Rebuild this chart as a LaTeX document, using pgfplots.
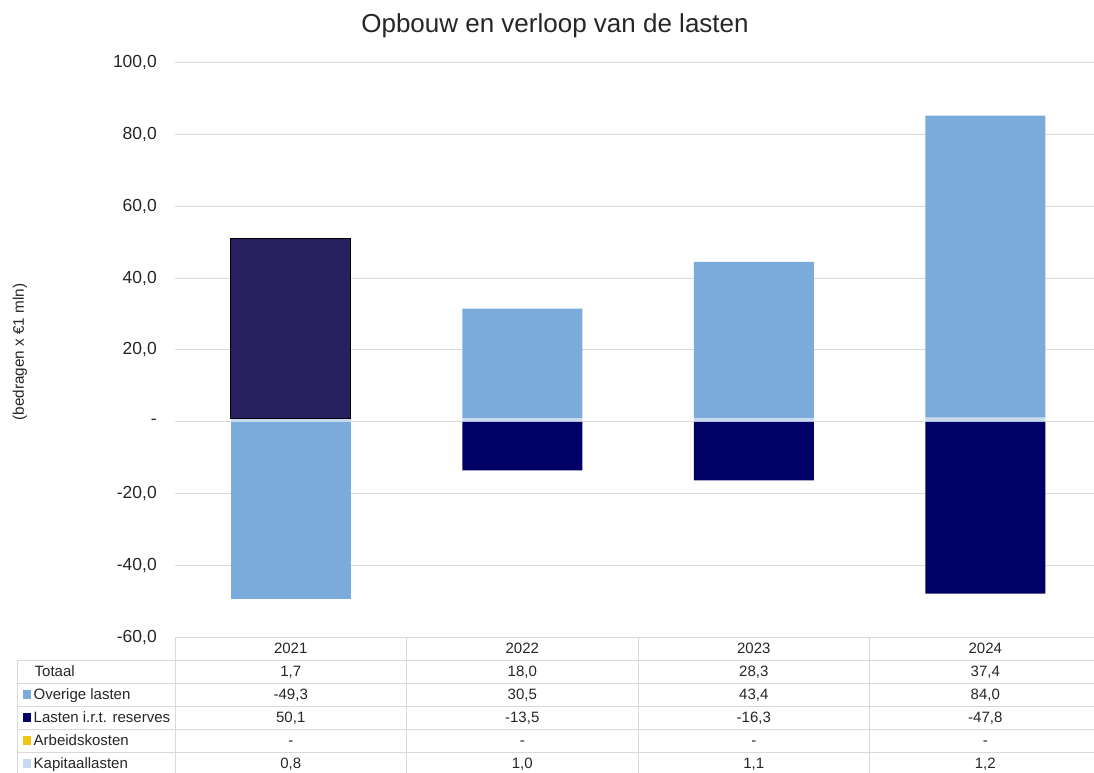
\documentclass[border=0pt]{standalone}
\usepackage{fontspec}
\setmainfont{Liberation Sans}
\usepackage{pgfplots}
\pgfplotsset{compat=1.18}
\definecolor{overige}{HTML}{7BABDB}
\definecolor{reserves}{HTML}{000066}
\definecolor{reservesA}{HTML}{28205F}
\definecolor{arbeid}{HTML}{F2C314}
\definecolor{kapitaal}{HTML}{C6D9EE}
\definecolor{gridc}{HTML}{D9D9D9}
\definecolor{txt}{HTML}{262626}

\pgfplotsset{
  base/.style={
    at={(175pt,134.5pt)}, anchor=south west, scale only axis,
    width=926pt, height=575pt,
    ymin=-60, ymax=100, xmin=-0.5, xmax=3.5,
    ybar stacked, bar width=120pt,
    axis line style={draw=none}, major tick length=0pt,
    xtick=\empty, clip=false,
  },
  hidden/.style={base, ytick=\empty, axis lines=none},
}

\begin{document}
\begin{tikzpicture}[x=1pt,y=1pt]
\useasboundingbox (0,0) rectangle (1094,772);

% main axis: grid, ticks and positive stack
\begin{axis}[base,
  ytick={-60,-40,-20,0,20,40,60,80,100},
  yticklabels={{-60,0},{-40,0},{-20,0},{-},{20,0},{40,0},{60,0},{80,0},{100,0}},
  yticklabel style={anchor=east, inner sep=0pt, xshift=-18pt, font=\fontsize{17.5}{19}\selectfont, text=txt},
  ymajorgrids, grid style={gridc, line width=1pt},
]
\addplot[fill=kapitaal, draw=none] coordinates {(0,0.8) (1,1.0) (2,1.1) (3,1.2)};
\addplot[fill=arbeid, draw=none] coordinates {(0,0) (1,0) (2,0) (3,0)};
\addplot[fill=overige, draw=none] coordinates {(0,0) (1,30.5) (2,43.4) (3,84.0)};
\end{axis}

% 2021: positive reserves on top of kapitaallasten
\begin{axis}[hidden]
\addplot[fill=none, draw=none] coordinates {(0,0.8)};
\addplot[fill=reservesA, draw=black, line width=1pt] coordinates {(0,50.1)};
\end{axis}

% negative stack
\begin{axis}[hidden]
\addplot[fill=overige, draw=none] coordinates {(0,-49.3) (1,0) (2,0) (3,0)};
\addplot[fill=reserves, draw=none] coordinates {(0,0) (1,-13.5) (2,-16.3) (3,-47.8)};
\end{axis}

% title and y label
\node[anchor=base, font=\fontsize{26}{30}\selectfont, text=txt] at (555,739) {Opbouw en verloop van de lasten};
\node[rotate=90, font=\fontsize{15.3}{17}\selectfont, text=txt] at (20,420) {(bedragen x €1 mln)};

% data table lines
\begin{scope}[draw=gridc, line width=1pt]
  \draw (175,135) -- (1100,135);
  \foreach \yy in {660,683,706,729,752} { \draw (17,772-\yy) -- (1100,772-\yy); }
  \draw (17,772-660) -- (17,-5);
  \foreach \xx in {175,406.5,638,869.5} { \draw (\xx,135) -- (\xx,-5); }
\end{scope}

% table text (baselines)
\begin{scope}[every node/.style={font=\fontsize{15}{17}\selectfont, text=txt, inner sep=0pt, anchor=base}]
  \foreach \xx/\yr in {290.75/2021,522.25/2022,753.75/2023,985.25/2024} {
    \node at (\xx,772-653.5) {\yr};
  }
  \node[anchor=base west] at (34.5,772-676.5) {Totaal};
  \node[anchor=base west] at (33.5,772-699.5) {Overige lasten};
  \node[anchor=base west] at (33.5,772-722.5) {Lasten i.r.t. reserves};
  \node[anchor=base west] at (33.5,772-745.5) {Arbeidskosten};
  \node[anchor=base west] at (33.5,772-768.5) {Kapitaallasten};
  \fill[overige]  (22.5,772-698.5) rectangle (31,772-689.5);
  \fill[reserves] (22.5,772-721.5) rectangle (31,772-712.5);
  \fill[arbeid]   (22.5,772-744.5) rectangle (31,772-735.5);
  \fill[kapitaal] (22.5,772-767.5) rectangle (31,772-758.5);
  \foreach \xx/\a/\b/\c/\d/\e in {290.75/{1,7}/{-49,3}/{50,1}/{-}/{0,8},
                                  522.25/{18,0}/{30,5}/{-13,5}/{-}/{1,0},
                                  753.75/{28,3}/{43,4}/{-16,3}/{-}/{1,1},
                                  985.25/{37,4}/{84,0}/{-47,8}/{-}/{1,2}} {
    \node at (\xx,772-676.5) {\a};
    \node at (\xx,772-699.5) {\b};
    \node at (\xx,772-722.5) {\c};
    \node at (\xx,772-745.5) {\d};
    \node at (\xx,772-768.5) {\e};
  }
\end{scope}
\end{tikzpicture}
\end{document}
